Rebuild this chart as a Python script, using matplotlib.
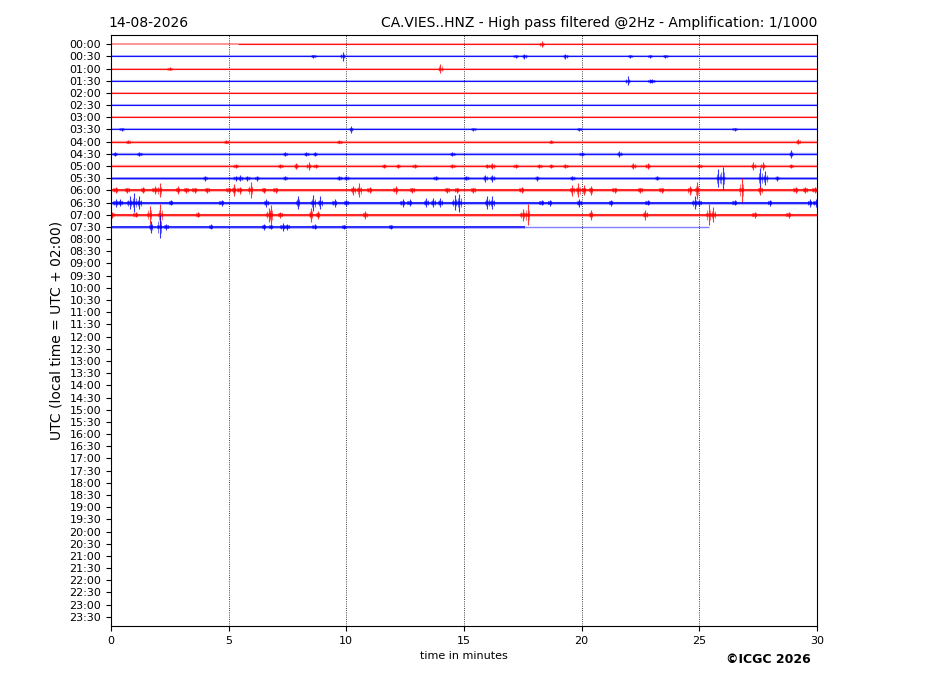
import matplotlib
matplotlib.use("Agg")
import matplotlib.pyplot as plt

# etiquetes de l'eix Y (una fila cada 30 minuts)
row_labels = ["%02d:%02d" % (h, m) for h in range(24) for m in (0, 30)]
row_colors = ["red", "blue"] * 8

# fins on arriba el registre a cada fila (minuts)
trace_end = [30] * 15 + [25.4]
# amplada del soroll de fons (en unitats de fila)
noise = [0.17] * 8 + [0.2, 0.2, 0.2, 0.22, 0.26, 0.26, 0.26, 0.24]

# esdeveniments llegits de la imatge: temps (min) i amplitud (unitats de fila)
event_times = [
    [18.3],
    [8.6, 9.85, 17.2, 17.57, 19.3, 22.06, 22.9, 23.55],
    [2.5, 14.0],
    [21.95, 22.9, 23.0],
    [],
    [],
    [],
    [0.45, 10.2, 15.4, 19.9, 26.5],
    [0.73, 4.9, 9.7, 18.7, 29.2],
    [0.17, 1.2, 7.4, 8.3, 8.67, 14.5, 20.0, 21.6, 28.9],
    [5.3, 7.2, 7.86, 8.4, 8.7, 11.6, 12.2, 12.9, 14.5, 16.0, 16.2, 17.2, 18.2,
     18.7, 19.3, 22.2, 22.8, 25.0, 27.3, 27.7, 28.9],
    [4.0, 5.3, 5.5, 5.8, 6.2, 7.4, 9.7, 10.0, 13.8, 15.1, 15.9, 16.2, 18.1,
     19.6, 23.2, 25.8, 26.0, 27.6, 27.8, 28.3],
    [0.2, 0.7, 1.36, 1.86, 2.07, 2.85, 3.2, 3.56, 4.1, 5.0, 5.23, 5.47, 5.94,
     6.5, 7.0, 10.3, 10.55, 11.0, 12.1, 12.8, 14.3, 14.7, 15.4, 17.45, 19.6,
     19.85, 20.1, 20.4, 21.4, 22.5, 23.4, 24.6, 24.9, 26.8, 27.6, 29.1, 29.5,
     29.9],
    [0.2, 0.4, 0.8, 1.0, 1.2, 2.55, 4.7, 6.6, 7.95, 8.6, 8.9, 9.5, 10.0, 12.4,
     12.7, 13.4, 13.7, 14.0, 14.6, 14.8, 16.0, 16.2, 18.3, 18.65, 19.9, 21.25,
     22.8, 24.8, 25.0, 26.5, 28.0, 29.7, 29.95],
    [0.05, 1.05, 1.65, 2.1, 3.7, 6.7, 6.8, 7.2, 8.5, 8.8, 10.8, 17.5, 17.7,
     20.4, 22.7, 25.4, 25.6, 27.35, 28.8],
    [1.7, 2.07, 2.35, 4.25, 6.5, 6.8, 7.3, 7.5, 8.66, 9.9, 11.9],
]
event_amps = [
    [0.25],
    [0.15, 0.35, 0.12, 0.2, 0.2, 0.12, 0.12, 0.12],
    [0.12, 0.4],
    [0.35, 0.15, 0.15],
    [],
    [],
    [],
    [0.15, 0.3, 0.12, 0.12, 0.15],
    [0.15, 0.12, 0.15, 0.12, 0.2],
    [0.15, 0.17, 0.15, 0.15, 0.15, 0.15, 0.15, 0.25, 0.35],
    [0.15, 0.17, 0.25, 0.3, 0.17, 0.15, 0.2, 0.17, 0.15, 0.17, 0.25, 0.15, 0.15,
     0.15, 0.15, 0.25, 0.25, 0.15, 0.3, 0.35, 0.15],
    [0.2, 0.2, 0.25, 0.2, 0.2, 0.15, 0.15, 0.17, 0.17, 0.17, 0.3, 0.3, 0.2,
     0.15, 0.17, 0.75, 0.95, 0.8, 0.6, 0.2],
    [0.25, 0.2, 0.25, 0.33, 0.57, 0.33, 0.2, 0.2, 0.2, 0.2, 0.5, 0.3, 0.66,
     0.2, 0.2, 0.35, 0.57, 0.25, 0.33, 0.2, 0.2, 0.2, 0.2, 0.25, 0.45,
     0.57, 0.4, 0.35, 0.2, 0.2, 0.2, 0.35, 0.7, 1.0, 0.35, 0.25, 0.25,
     0.25],
    [0.33, 0.3, 0.5, 0.75, 0.5, 0.2, 0.25, 0.33, 0.57, 0.66, 0.5, 0.33, 0.25, 0.33,
     0.3, 0.35, 0.4, 0.35, 0.6, 0.74, 0.57, 0.5, 0.2, 0.25, 0.33, 0.25,
     0.2, 0.5, 0.25, 0.2, 0.25, 0.33, 0.33],
    [0.25, 0.2, 0.74, 0.85, 0.2, 0.57, 0.8, 0.25, 0.57, 0.33, 0.33, 0.5, 0.85,
     0.41, 0.41, 0.85, 0.6, 0.25, 0.25],
    [0.5, 0.95, 0.25, 0.2, 0.25, 0.2, 0.33, 0.25, 0.2, 0.15, 0.15],
]

fig = plt.figure(figsize=(9.27, 6.96), dpi=100)
ax = fig.add_axes([0.1197, 0.1006, 0.7616, 0.8491])

px_per_row = 12.19


def draw_segment(x0, x1, y, c, lw):
    # traça amb un nucli sòlid i una vora més clara (soroll)
    ax.plot([x0, x1], [y, y], color=c, lw=lw, alpha=0.3, solid_capstyle="butt")
    ax.plot([x0, x1], [y, y], color=c, lw=lw * 0.55, alpha=0.9, solid_capstyle="butt")


for i in range(len(trace_end)):
    c = row_colors[i]
    lw = noise[i] * px_per_row / 1.39
    if i == 0:
        # primer tram, més tènue
        ax.plot([0, 5.4], [i, i], color=c, lw=1.3, alpha=0.45, solid_capstyle="butt")
        draw_segment(5.4, trace_end[i], i, c, lw)
    elif i == 15:
        draw_segment(0, 17.6, i, c, lw)
        ax.plot([17.6, trace_end[i]], [i, i], color=c, lw=1.0, alpha=0.5, solid_capstyle="butt")
    else:
        draw_segment(0, trace_end[i], i, c, lw)
    for t, a in zip(event_times[i], event_amps[i]):
        ax.vlines(t, i - a, i + a, color=c, lw=0.8, alpha=0.8)
        ax.vlines([t - 0.06, t + 0.06], i - 0.5 * a, i + 0.5 * a, color=c, lw=0.7, alpha=0.55)
        ax.plot([max(t - 0.1, 0), min(t + 0.1, 30)], [i, i], color=c, lw=lw * 1.3, alpha=0.45,
                solid_capstyle="butt")

ax.set_xlim(0, 30)
ax.set_ylim(47.75, -0.75)
ax.set_yticks(range(48))
ax.set_yticklabels(row_labels, fontsize=8)
ax.set_xticks([0, 5, 10, 15, 20, 25, 30])
ax.tick_params(axis="x", labelsize=8)
ax.grid(axis="x", color="black", linestyle=":", linewidth=0.6)
ax.set_xlabel("time in minutes", fontsize=8)
ax.set_ylabel("UTC (local time = UTC + 02:00)", fontsize=10)
ax.set_title("14-08-2026", loc="left", fontsize=10, x=-0.003)
ax.set_title("CA.VIES..HNZ - High pass filtered @2Hz - Amplification: 1/1000", loc="right", fontsize=10)

fig.text(0.875, 0.053, "\u00a9ICGC 2026", ha="right", va="center", fontsize=9, fontweight="bold")

fig.savefig("out.png", dpi=100)
